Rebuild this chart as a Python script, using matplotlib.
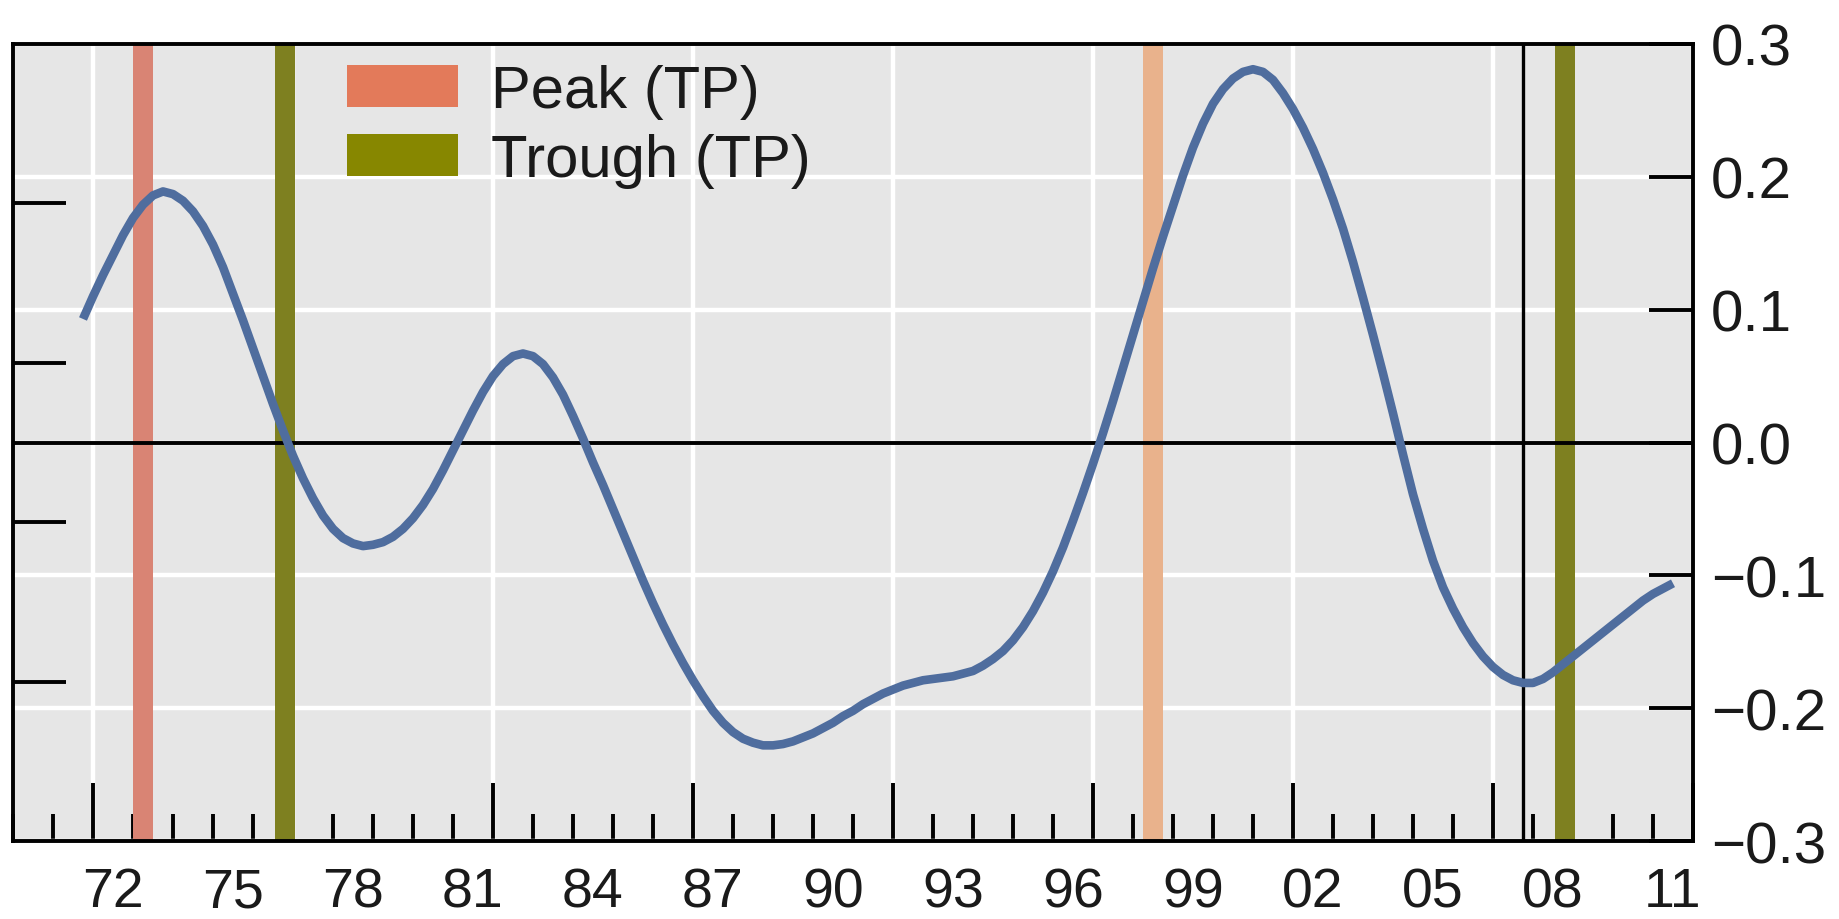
import matplotlib
matplotlib.use("Agg")
import matplotlib.pyplot as plt
from matplotlib.patches import Patch
from matplotlib.ticker import MultipleLocator

plt.rcParams['font.family'] = ['Liberation Sans', 'DejaVu Sans']

# ---- data ----
years = [
    1971.75, 1972.0, 1972.25, 1972.5, 1972.75, 1973.0, 1973.25, 1973.5, 1973.75,
    1974.0, 1974.25, 1974.5, 1974.75, 1975.0, 1975.25, 1975.5, 1975.75,
    1976.0, 1976.25, 1976.5, 1976.75, 1977.0, 1977.25, 1977.5, 1977.75,
    1978.0, 1978.25, 1978.5, 1978.75, 1979.0, 1979.25, 1979.5, 1979.75,
    1980.0, 1980.25, 1980.5, 1980.75, 1981.0, 1981.25, 1981.5, 1981.75,
    1982.0, 1982.25, 1982.5, 1982.75, 1983.0, 1983.25, 1983.5, 1983.75,
    1984.0, 1984.25, 1984.5, 1984.75, 1985.0, 1985.25, 1985.5, 1985.75,
    1986.0, 1986.25, 1986.5, 1986.75, 1987.0, 1987.25, 1987.5, 1987.75,
    1988.0, 1988.25, 1988.5, 1988.75, 1989.0, 1989.25, 1989.5, 1989.75,
    1990.0, 1990.25, 1990.5, 1990.75, 1991.0, 1991.25, 1991.5, 1991.75,
    1992.0, 1992.25, 1992.5, 1992.75, 1993.0, 1993.25, 1993.5, 1993.75,
    1994.0, 1994.25, 1994.5, 1994.75, 1995.0, 1995.25, 1995.5, 1995.75,
    1996.0, 1996.25, 1996.5, 1996.75, 1997.0, 1997.25, 1997.5, 1997.75,
    1998.0, 1998.25, 1998.5, 1998.75, 1999.0, 1999.25, 1999.5, 1999.75,
    2000.0, 2000.25, 2000.5, 2000.75, 2001.0, 2001.25, 2001.5, 2001.75,
    2002.0, 2002.25, 2002.5, 2002.75, 2003.0, 2003.25, 2003.5, 2003.75,
    2004.0, 2004.25, 2004.5, 2004.75, 2005.0, 2005.25, 2005.5, 2005.75,
    2006.0, 2006.25, 2006.5, 2006.75, 2007.0, 2007.25, 2007.5, 2007.75,
    2008.0, 2008.25, 2008.5, 2008.75, 2009.0, 2009.25, 2009.5, 2009.75,
    2010.0, 2010.25, 2010.5, 2010.75, 2011.0, 2011.25, 2011.5,
]
cycle = [
    0.093, 0.110, 0.126, 0.141, 0.156, 0.169, 0.179, 0.186, 0.189,
    0.187, 0.182, 0.174, 0.163, 0.149, 0.132, 0.112, 0.092,
    0.071, 0.050, 0.029, 0.009, -0.010, -0.027, -0.042, -0.055,
    -0.065, -0.072, -0.076, -0.078, -0.077, -0.075, -0.071, -0.065,
    -0.057, -0.047, -0.035, -0.021, -0.006, 0.009, 0.024, 0.038,
    0.050, 0.059, 0.065, 0.067, 0.065, 0.059, 0.049, 0.036,
    0.020, 0.003, -0.015, -0.032, -0.050, -0.068, -0.086, -0.104,
    -0.121, -0.137, -0.152, -0.166, -0.179, -0.191, -0.202, -0.211,
    -0.218, -0.223, -0.226, -0.228, -0.228, -0.227, -0.225, -0.222,
    -0.219, -0.215, -0.211, -0.206, -0.202, -0.197, -0.193, -0.189,
    -0.186, -0.183, -0.181, -0.179, -0.178, -0.177, -0.176, -0.174,
    -0.172, -0.168, -0.163, -0.157, -0.149, -0.139, -0.127, -0.113,
    -0.097, -0.079, -0.059, -0.038, -0.016, 0.007, 0.031, 0.056,
    0.081, 0.106, 0.131, 0.155, 0.178, 0.201, 0.222, 0.240,
    0.255, 0.266, 0.274, 0.279, 0.281, 0.279, 0.273, 0.263,
    0.251, 0.237, 0.221, 0.203, 0.183, 0.161, 0.136, 0.109,
    0.081, 0.052, 0.022, -0.009, -0.039, -0.065, -0.089, -0.109,
    -0.125, -0.139, -0.151, -0.161, -0.169, -0.175, -0.179, -0.181,
    -0.181, -0.178, -0.173, -0.167, -0.161, -0.155, -0.149, -0.143,
    -0.137, -0.131, -0.125, -0.119, -0.114, -0.110, -0.106,
]
peak_dates = [1973.25, 1998.5]
trough_dates = [1976.8, 2008.8]
marker_date = 2007.75
x_labels = ['72', '75', '78', '81', '84', '87', '90', '93', '96', '99', '02', '05', '08', '11']
x_label_pos = [1972.5, 1975.5, 1978.5, 1981.5, 1984.5, 1987.5, 1990.5, 1993.5,
               1996.5, 1999.5, 2002.5, 2005.5, 2008.5, 2011.5]
y_ticks = [-0.3, -0.2, -0.1, 0.0, 0.1, 0.2, 0.3]
legend_labels = ['Peak (TP)', 'Trough (TP)']

# ---- colours ----
peak_colors = ['#D98474', '#E9B28C']
trough_color = '#7E8020'
legend_peak = '#E37A5A'
legend_trough = '#878700'
line_color = '#4F6D9E'
bg = '#E6E6E6'
txt = '#1a1a1a'

W, H = 1839, 920
fig = plt.figure(figsize=(W / 100, H / 100), dpi=100)
ax = fig.add_axes([13 / W, 1 - 842 / H, (1693 - 13) / W, (842 - 45) / H])
ax.set_facecolor(bg)
ax.set_xlim(1970, 2012)
ax.set_ylim(-0.3, 0.3)

# grid
ax.xaxis.set_major_locator(MultipleLocator(5, offset=2))
ax.xaxis.set_minor_locator(MultipleLocator(1))
ax.set_yticks(y_ticks)
ax.grid(True, which='major', color='white', linewidth=3.2, zorder=0)
ax.set_axisbelow(True)

# bands
for p, c in zip(peak_dates, peak_colors):
    ax.axvspan(p - 0.25, p + 0.25, color=c, lw=0, zorder=1)
for t in trough_dates:
    ax.axvspan(t - 0.25, t + 0.25, color=trough_color, lw=0, zorder=1)

ax.axhline(0, color='black', lw=2.8, zorder=2)
ax.axvline(marker_date, color='black', lw=2.4, zorder=2)

ax.plot(years, cycle, color=line_color, lw=6.2, zorder=3,
        solid_capstyle='butt', solid_joinstyle='round')

# spines
for s in ax.spines.values():
    s.set_linewidth(2.8)
    s.set_color('black')
    s.set_zorder(5)

# x ticks (marks only)
ax.tick_params(axis='x', which='major', direction='in', length=42, width=2.8,
               labelbottom=False, color='black')
ax.tick_params(axis='x', which='minor', direction='in', length=19.5, width=2.8,
               color='black')

# x labels via secondary axis
sx = ax.secondary_xaxis('bottom')
sx.set_xticks(x_label_pos)
sx.set_xticklabels(x_labels)
sx.tick_params(axis='x', length=0, pad=18, labelsize=40, labelcolor=txt)
sx.spines['bottom'].set_visible(False)

# right y axis
ax.yaxis.tick_right()
ax.set_yticklabels([f'{v:.1f}'.replace('-', '\u2212') for v in y_ticks])
ax.tick_params(axis='y', which='major', direction='in', length=32, width=2.8,
               pad=13, labelsize=42, labelcolor=txt, right=True, left=False)

# left y axis: marks only
sy = ax.secondary_yaxis('left', functions=(lambda y: y * 50 / 3, lambda y: y * 3 / 50))
sy.set_yticks([-3, -1, 1, 3])
sy.set_yticklabels([])
sy.tick_params(axis='y', direction='in', length=38, width=2.8)
sy.spines['left'].set_visible(False)

handles = [Patch(facecolor=legend_peak, edgecolor='none'),
           Patch(facecolor=legend_trough, edgecolor='none')]
leg = ax.legend(handles, legend_labels, loc='upper left', bbox_to_anchor=(0.199, 0.975),
                frameon=False, fontsize=43, handlelength=1.86, handleheight=0.70,
                handletextpad=0.55, labelspacing=0.23, borderpad=0, borderaxespad=0)
for t in leg.get_texts():
    t.set_color(txt)

fig.savefig('out.png', dpi=100)
